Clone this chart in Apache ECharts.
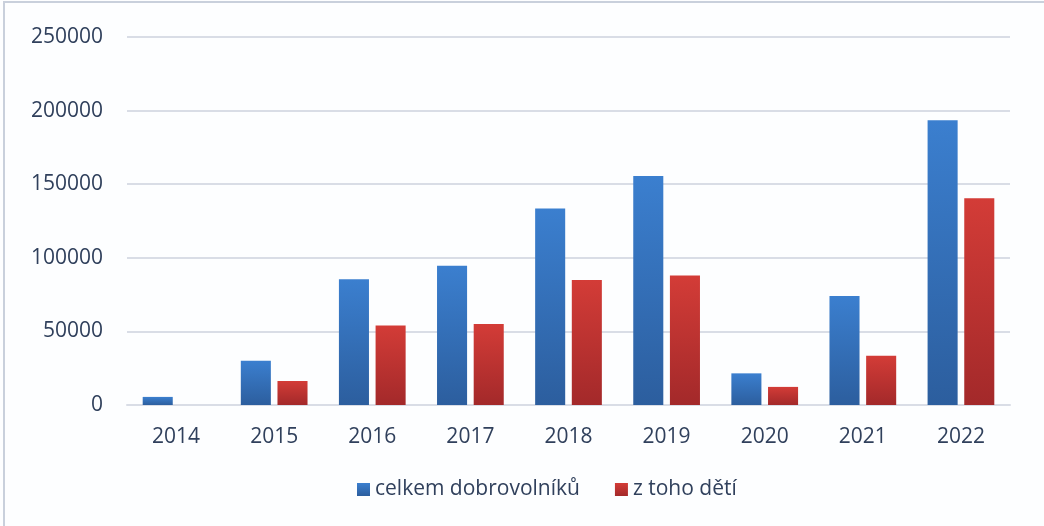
<!DOCTYPE html>
<html>
<head>
<meta charset="utf-8">
<script src="https://cdn.jsdelivr.net/npm/echarts@6/dist/echarts.min.js"></script>
<style>
  html, body { margin: 0; padding: 0; background: #ffffff; }
  #main { width: 1044px; height: 526px; }
</style>
</head>
<body>
<div id="main"></div>
<script>
// roky a hodnoty
var years = ['2014', '2015', '2016', '2017', '2018', '2019', '2020', '2021', '2022'];
var celkem = [5500, 30000, 85500, 94600, 133500, 155500, 21500, 74000, 193500];
var deti = [0, 16300, 54000, 55000, 85000, 88000, 12300, 33500, 140500];
var seriesNames = ['celkem dobrovolníků', 'z toho dětí'];

var textColor = '#30405c';
var fontFam = '"Open Sans", sans-serif';

function grad(top, bottom) {
  return new echarts.graphic.LinearGradient(0, 0, 0, 1, [
    { offset: 0, color: top },
    { offset: 1, color: bottom }
  ]);
}

var chart = echarts.init(document.getElementById('main'));
var option = {
  backgroundColor: '#fdfeff',
  animation: false,
  graphic: [{
    type: 'rect',
    shape: { x: 4, y: 2, width: 1060, height: 540 },
    style: { fill: 'none', stroke: '#c9d0dc', lineWidth: 2 }
  }],
  grid: { left: 127, right: 34, top: 37, bottom: 121 },
  legend: {
    data: seriesNames,
    bottom: 21,
    left: 352,
    itemWidth: 13,
    itemHeight: 13,
    itemGap: 35,
    icon: 'rect',
    textStyle: { color: textColor, fontSize: 21, fontFamily: fontFam }
  },
  xAxis: {
    type: 'category',
    data: years,
    axisLine: { lineStyle: { color: '#d9dde6', width: 2 } },
    axisTick: { show: false },
    axisLabel: { color: textColor, fontSize: 21, fontFamily: fontFam, margin: 22 }
  },
  yAxis: {
    type: 'value',
    min: 0,
    max: 250000,
    interval: 50000,
    axisLine: { show: false },
    axisTick: { show: false },
    axisLabel: {
      color: textColor, fontSize: 21, fontFamily: fontFam, margin: 24,
      formatter: function (v) { return String(v); }
    },
    splitLine: { lineStyle: { color: '#d9dde6', width: 2 } }
  },
  series: [{
    name: seriesNames[0],
    type: 'bar',
    data: celkem,
    barGap: '22%',
    barCategoryGap: '32%',
    itemStyle: { color: grad('#3b7fcf', '#2c5e9e') }
  }, {
    name: seriesNames[1],
    type: 'bar',
    data: deti,
    itemStyle: { color: grad('#d33c37', '#a3292a') }
  }]
};
chart.setOption(option);
</script>
</body>
</html>
